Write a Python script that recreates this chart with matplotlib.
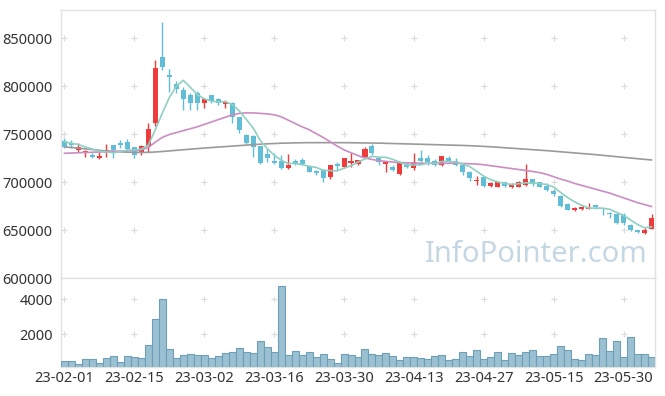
import matplotlib
matplotlib.use("Agg")
import matplotlib.pyplot as plt
import numpy as np

plt.rcParams['font.family'] = ['Noto Sans', 'DejaVu Sans']

# trading day labels shown on the x axis (every 10th session)
tick_idx = [0, 10, 20, 30, 40, 50, 60, 70, 80]
tick_labels = ["23-02-01", "23-02-15", "23-03-02", "23-03-16", "23-03-30",
               "23-04-13", "23-04-27", "23-05-15", "23-05-30"]

opens = [742700, 741000, 733300, 731000, 728000, 725500, 730000, 738500, 741000, 742000,
         736000, 731500, 737000, 761000, 830500, 811500, 802000, 796000, 790500, 792500,
         782000, 790500, 786000, 781000, 782000, 767500, 749000, 748000, 737500, 729000,
         722000, 722000, 714500, 722000, 723000, 716500, 711000, 713000, 705000, 718500,
         715500, 720000, 718500, 726500, 737000, 725500, 718500, 716000, 708000, 718500,
         714500, 724500, 724500, 722000, 717500, 725500, 722000, 717500, 710000, 701500,
         705000, 696000, 695000, 699500, 695000, 695000, 697000, 703000, 699500, 696000,
         691000, 685500, 677000, 671000, 671500, 672000, 676000, 672500, 668000, 666500,
         665500, 655000, 650000, 647000, 651500]
closes = [736800, 738500, 736500, 732500, 726500, 727000, 733300, 733300, 738500, 734000,
          728000, 737500, 755000, 818500, 820000, 809000, 796500, 786000, 782000, 782000,
          787000, 784500, 782000, 783000, 767500, 754000, 740500, 736000, 719500, 724500,
          719500, 714500, 718000, 720000, 718500, 710500, 709000, 704000, 717500, 717000,
          724500, 722000, 723000, 734000, 730000, 720500, 721000, 712000, 719500, 715500,
          720500, 722000, 720500, 717500, 727000, 721000, 717500, 710500, 704000, 702500,
          696000, 698500, 699500, 696000, 697000, 700000, 703000, 697500, 695000, 691500,
          687000, 674500, 671000, 672500, 673500, 673000, 673500, 671500, 666500, 657500,
          657000, 650000, 647500, 650000, 662000]
highs = [745800, 744000, 741000, 733000, 730000, 731000, 740000, 738500, 743500, 744500,
         736500, 738500, 761000, 827000, 866500, 818000, 805500, 798500, 792500, 795000,
         787500, 791000, 787500, 785000, 783000, 768000, 750500, 749000, 738000, 735000,
         730000, 728000, 729000, 723500, 724500, 717500, 712500, 714000, 718000, 721000,
         725500, 730000, 723000, 736500, 739500, 726500, 721500, 717500, 720000, 721000,
         730000, 733000, 728000, 723500, 727500, 727500, 724500, 719500, 711000, 706000,
         706000, 700500, 700000, 700500, 698500, 701000, 719000, 703500, 700500, 698500,
         692500, 686500, 678000, 673500, 675500, 678000, 676500, 673000, 668500, 668000,
         667500, 656000, 650500, 652000, 666500]
lows = [735400, 735000, 731000, 726500, 725500, 724000, 726500, 725500, 735000, 732500,
        725000, 728000, 731000, 758000, 816500, 794000, 792500, 775500, 775500, 775500,
        777000, 782000, 780000, 777000, 761000, 751500, 739500, 726500, 719000, 721000,
        718500, 713500, 713500, 717500, 717500, 710000, 707500, 699500, 703500, 712500,
        714500, 716000, 718000, 724500, 728500, 717500, 710000, 711000, 707500, 714500,
        712500, 721000, 718000, 716500, 717000, 719500, 716500, 707500, 701500, 697000,
        694500, 694500, 694500, 695000, 693500, 694500, 695500, 696000, 694500, 691000,
        685000, 673500, 670500, 670000, 670500, 671500, 671500, 665500, 662000, 656500,
        655000, 649000, 647000, 645500, 651000]

# moving averages as drawn on the chart (5, 20, 60 sessions)
ma5 = [741500, 740500, 739000, 736500, 734200, 732200, 731200, 730500, 731700, 733200,
       733400, 734300, 738600, 754600, 771800, 788000, 799800, 806000, 798700, 791100,
       786700, 784300, 783500, 783700, 780800, 774200, 765400, 756200, 743500, 734900,
       728000, 722800, 719200, 719300, 718100, 716300, 715200, 712400, 711900, 711600,
       714400, 717000, 720800, 724100, 726700, 725900, 725700, 723500, 720600, 717700,
       717700, 717900, 719600, 719200, 721500, 721600, 720700, 718700, 716000, 711100,
       706100, 702300, 700100, 698500, 697400, 698200, 699100, 698700, 698500, 697400,
       694800, 689100, 683800, 679300, 675700, 672900, 672700, 672800, 671600, 668400,
       665200, 660500, 655700, 652400, 653300]
ma20 = [729900, 730200, 730500, 730800, 731000, 731300, 731600, 731900, 732200, 732600,
        733000, 733500, 736000, 741500, 746500, 749500, 751500, 753500, 755500, 757500,
        760000, 762500, 765000, 767500, 770000, 771500, 772000, 772000, 771500, 771000,
        770000, 768000, 764500, 761000, 757500, 754500, 750500, 746500, 742000, 737500,
        733500, 730500, 727500, 725000, 723500, 722300, 721500, 720800, 720300, 720000,
        719800, 719600, 719500, 719500, 719500, 719500, 719500, 719300, 719000, 718700,
        718000, 717000, 716000, 715000, 714000, 713000, 712000, 711000, 709800, 708000,
        705500, 703000, 701000, 698500, 696500, 694500, 692500, 690500, 688500, 686000,
        683500, 681000, 678500, 676500, 674500]
ma60 = [736500, 736000, 735300, 734500, 733800, 733000, 732300, 731800, 731400, 731100,
        730900, 730800, 730900, 731300, 731800, 732400, 733000, 733600, 734200, 734800,
        735400, 735900, 736400, 736900, 737400, 737900, 738400, 738900, 739400, 739800,
        740100, 740400, 740600, 740800, 740900, 741000, 741000, 741000, 741000, 741000,
        741000, 740900, 740800, 740700, 740600, 740500, 740300, 740100, 739900, 739700,
        739500, 739300, 739100, 738900, 738700, 738500, 738300, 738100, 737800, 737500,
        737100, 736700, 736200, 735700, 735200, 734700, 734200, 733700, 733200, 732700,
        732100, 731500, 730900, 730300, 729700, 729100, 728500, 727800, 727100, 726400,
        725700, 725000, 724300, 723600, 723000]

volumes = [444, 444, 271, 559, 559, 311, 599, 732, 386, 732,
           674, 617, 1349, 2847, 4000, 1118, 617, 772, 830, 772,
           772, 617, 715, 888, 963, 1176, 945, 905, 1597, 1233,
           945, 4749, 772, 1020, 772, 945, 657, 830, 542, 311,
           830, 772, 657, 1118, 830, 772, 888, 715, 484, 657,
           657, 599, 542, 715, 772, 484, 542, 945, 715, 1060,
           542, 657, 945, 484, 888, 772, 945, 1060, 715, 715,
           830, 1291, 1060, 542, 484, 830, 772, 1752, 1003, 1579,
           657, 1810, 830, 830, 657]

price_ticks = [600000, 650000, 700000, 750000, 800000, 850000]
vol_ticks = [2000, 4000]

UP = "#ee3b3b"
DOWN = "#62bdd6"
GRID = "#dadada"
SPINE = "#e2e2e2"
TXT = "#333333"
FS = 10.5

x = np.arange(len(closes))
o = np.array(opens)
c = np.array(closes)
colors = [UP if cc >= oo else DOWN for oo, cc in zip(o, c)]

fig = plt.figure(figsize=(6.65, 3.96), dpi=100)
ax = fig.add_axes([61 / 665, 1 - 278 / 396, 594 / 665, 268 / 396])
axv = fig.add_axes([61 / 665, 1 - 367 / 396, 594 / 665, 89 / 396], sharex=ax)

# candles
ax.vlines(x, lows, highs, colors=colors, linewidth=1.0, zorder=3)
ax.bar(x, np.abs(c - o), bottom=np.minimum(o, c), width=0.72, color=colors,
       linewidth=0, zorder=4)

# moving averages
ax.plot(x, ma60, color="#9a9a9a", linewidth=1.2, zorder=5)
ax.plot(x, ma20, color="#cc8cc4", linewidth=1.2, zorder=5)
ax.plot(x, ma5, color="#8fd0c2", linewidth=1.2, zorder=5)

ax.set_xlim(-0.5, len(closes) - 0.5)
ax.set_ylim(600000, 879200)
ax.set_yticks(price_ticks)
ax.set_yticklabels([str(t) for t in price_ticks])
ax.tick_params(axis="y", length=0, labelsize=FS, colors=TXT, pad=6)
ax.tick_params(axis="x", length=0, labelbottom=False)

# grid shown as small crosses at tick intersections
gx, gy = np.meshgrid(tick_idx, price_ticks[1:])
ax.scatter(gx.ravel(), gy.ravel(), marker="+", s=18, color=GRID, linewidths=0.8, zorder=1)

ax.text(0.988, 0.035, "InfoPointer.com", transform=ax.transAxes, ha="right", va="bottom",
        fontsize=21, color="#c5d7e2", zorder=2)

# volume
axv.bar(x, volumes, width=1.0, color="#9bc0d1", edgecolor="#6e9fb9", linewidth=0.8, zorder=3)
axv.set_ylim(100, 5230)
axv.set_yticks(vol_ticks)
axv.set_yticklabels([str(t) for t in vol_ticks])
axv.set_xticks(tick_idx)
axv.set_xticklabels(tick_labels)
axv.tick_params(axis="both", length=0, labelsize=FS, colors=TXT)
axv.tick_params(axis="y", pad=6)
axv.tick_params(axis="x", pad=3)
gx, gy = np.meshgrid(tick_idx, vol_ticks)
axv.scatter(gx.ravel(), gy.ravel(), marker="+", s=18, color=GRID, linewidths=0.8, zorder=1)

for a in (ax, axv):
    for s in a.spines.values():
        s.set_color(SPINE)
        s.set_linewidth(1.0)

fig.savefig("out.png", dpi=100)
